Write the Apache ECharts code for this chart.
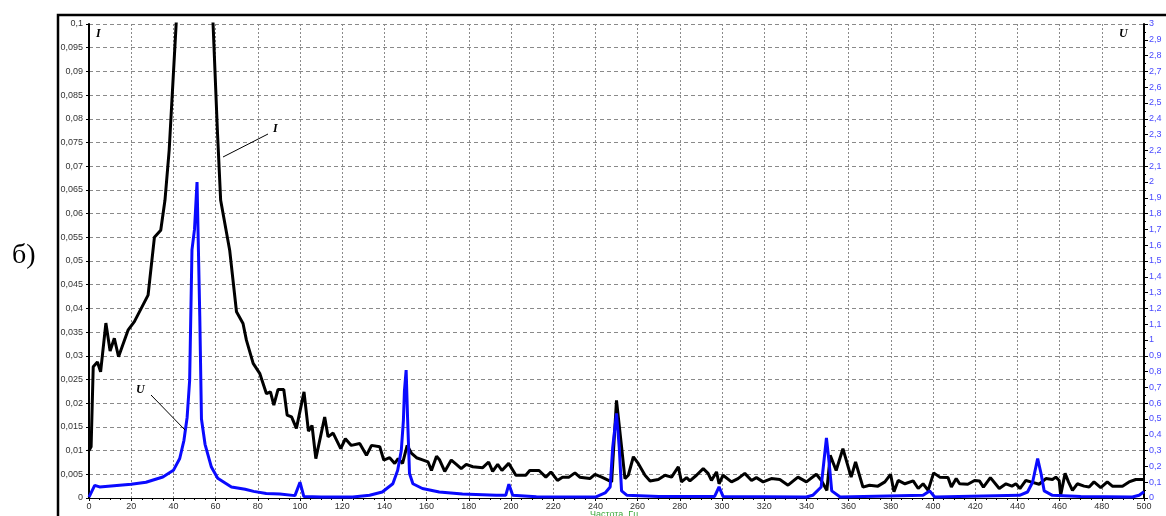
<!DOCTYPE html>
<html>
<head>
<meta charset="utf-8">
<script src="https://cdn.jsdelivr.net/npm/echarts@6/dist/echarts.min.js"></script>
<style>
  html, body { margin: 0; padding: 0; background: #fff; }
  #chart { width: 1166px; height: 516px; }
</style>
</head>
<body>
<div id="chart"></div>
<script>
// Current spectrum I (left axis) versus frequency, Hz
const freqI = [0, 1, 2, 4, 5.5, 8, 10, 12, 14, 18.5, 21.5, 28, 31, 34, 36, 38, 50, 58.8, 60.9, 62.4,
  66.7, 69.9, 73, 74.6, 77.8, 80.9, 84.1, 86, 87.6, 89.6, 92.3, 93.9, 96, 98.3, 101.9, 104, 105.7, 107.5,
  109.7, 111.7, 113.3, 115.7, 119.3, 121.5, 124.3, 128.3, 131.5, 133.9, 137.8, 139.7, 142.5, 144.9, 146.5,
  148.6, 150.8, 152.9, 155.2, 158.4, 160.7, 162.3, 164.7, 166.2, 168.6, 171.7, 174.1, 176.4, 178.8, 181.9,
  186.6, 189.4, 191.3, 193.7, 195.7, 198.9, 202.3, 207, 208.9, 213.3, 216.5, 218.9, 222, 224.4, 227.5,
  230.3, 232.6, 237.4, 239.8, 243, 247.7, 250, 252.4, 254, 255.6, 258, 260.3, 263.5, 265.9, 269.8, 273,
  276.1, 279.3, 280.8, 283.2, 284.8, 287.9, 291.1, 293.4, 295, 297.4, 298.6, 300.5, 304.5, 307.6, 310.8,
  314, 316.3, 319.5, 323.4, 327.4, 331.3, 336, 340, 344.7, 347.1, 349.7, 351.3, 354.1, 357.3, 361.2, 363.3,
  366.8, 369.9, 373.9, 377.2, 379.9, 381.5, 383.5, 386.7, 390.6, 393, 395.3, 397.7, 400.3, 403.2, 407.1,
  408.7, 411, 412.6, 416.5, 419.7, 422, 423.9, 427.2, 431.4, 434.6, 437.4, 439.3, 441.2, 444, 446.4, 450.3,
  453.5, 456.6, 458.2, 459.8, 460.5, 462.6, 464.2, 466.1, 468.4, 471.6, 474, 476.3, 479.5, 482.6, 485,
  489.8, 492.9, 496.1, 500];
const valI = [0.0100, 0.0108, 0.0277, 0.0287, 0.0266, 0.0369, 0.0310, 0.0337, 0.0298, 0.0354, 0.0372, 0.0428,
  0.0550, 0.0565, 0.0628, 0.0734, 0.1700, 0.1000, 0.0770, 0.0628,
  0.0522, 0.0393, 0.0368, 0.0333, 0.0284, 0.0263, 0.0220, 0.0224, 0.0196, 0.0229, 0.0229, 0.0175, 0.0171,
  0.0147, 0.0224, 0.0141, 0.0153, 0.0083,
  0.0129, 0.0171, 0.0129, 0.0137, 0.0104, 0.0125, 0.0111, 0.0115, 0.0090, 0.0111, 0.0108, 0.0080, 0.0085,
  0.0073, 0.0083,
  0.0073, 0.0111, 0.0094, 0.0085, 0.0080, 0.0076, 0.0058, 0.0088, 0.0080, 0.0056, 0.0080, 0.0071, 0.0062,
  0.0071, 0.0066,
  0.0064, 0.0076, 0.0056, 0.0071, 0.0058, 0.0073, 0.0048, 0.0048, 0.0058, 0.0058, 0.0044, 0.0055, 0.0037,
  0.0044, 0.0044,
  0.0053, 0.0044, 0.0041, 0.0050, 0.0044, 0.0034, 0.0206, 0.0108, 0.0041, 0.0048, 0.0087, 0.0073, 0.0048,
  0.0036, 0.0039, 0.0048,
  0.0044, 0.0066, 0.0034, 0.0043, 0.0036, 0.0048, 0.0062, 0.0052, 0.0037, 0.0055, 0.0030, 0.0048, 0.0034,
  0.0041, 0.0052,
  0.0037, 0.0043, 0.0034, 0.0041, 0.0039, 0.0027, 0.0044, 0.0034, 0.0050, 0.0037, 0.0016, 0.0090, 0.0058,
  0.0104, 0.0044, 0.0076,
  0.0023, 0.0027, 0.0025, 0.0034, 0.0050, 0.0013, 0.0037, 0.0030, 0.0036, 0.0020, 0.0030, 0.0016, 0.0053,
  0.0044, 0.0043,
  0.0023, 0.0041, 0.0030, 0.0029, 0.0037, 0.0036, 0.0023, 0.0043, 0.0020, 0.0030, 0.0025, 0.0030, 0.0020,
  0.0037, 0.0034, 0.0029,
  0.0041, 0.0039, 0.0044, 0.0037, 0.0006, 0.0052, 0.0034, 0.0016, 0.0030, 0.0025, 0.0023, 0.0034, 0.0022,
  0.0034, 0.0025,
  0.0025, 0.0034, 0.0039, 0.0039];

// Voltage spectrum U (right axis) versus frequency, Hz
const freqU = [0, 2.7, 5, 20, 27, 35, 40, 43, 45, 46.5, 47.7, 48.8, 50, 51.2, 52.5, 53.3, 55, 58, 61, 67.5,
  74, 78, 84, 90.5, 97.6, 100, 101.8, 110, 125, 133, 139, 144, 146.3, 148, 149, 149.5, 150.3, 151, 151.9,
  153.5, 158, 166, 177, 193, 197.5, 199, 200.8, 212, 240, 244.6, 247, 248.2, 250, 251.3, 252.4, 255, 270,
  296.5, 298.6, 300.5, 340, 343, 347, 348.2, 349.5, 350.8, 352, 356, 395.3, 398.4, 400.8, 441, 444.8,
  447.2, 449.6, 451.2, 452.7, 456.6, 470, 494.5, 497.7, 500];
const valU = [0.006, 0.08, 0.07, 0.087, 0.10, 0.133, 0.175, 0.25, 0.365, 0.51, 0.745, 1.57, 1.70, 2.0, 1.15,
  0.50, 0.34, 0.196, 0.125, 0.07,
  0.055, 0.042, 0.028, 0.025, 0.015, 0.10, 0.010, 0.006, 0.006, 0.017, 0.038, 0.09, 0.175, 0.30, 0.49, 0.68,
  0.81, 0.50, 0.155,
  0.09, 0.06, 0.038, 0.025, 0.017, 0.017, 0.087, 0.017, 0.008, 0.006, 0.032, 0.07, 0.32, 0.535, 0.32, 0.045,
  0.017, 0.010,
  0.010, 0.07, 0.010, 0.006, 0.017, 0.07, 0.22, 0.38, 0.22, 0.045, 0.006, 0.017, 0.045, 0.006, 0.017, 0.038,
  0.10, 0.25, 0.155, 0.045, 0.017, 0.010, 0.006, 0.017, 0.04];

const freqTicks = { min: 0, max: 500, step: 20 };
const currentTicks = { min: 0, max: 0.1, step: 0.005 };
const voltageTicks = { min: 0, max: 3, step: 0.1 };

const chart = echarts.init(document.getElementById('chart'), null, { renderer: 'canvas' });

const commaNum = (v, digits) => String(+v.toFixed(digits)).replace('.', ',');
const tickFont = { fontFamily: 'Liberation Sans, Arial, sans-serif', fontSize: 9 };
const serifItalic = { fontFamily: 'Liberation Serif, Times New Roman, serif', fontStyle: 'italic', fontWeight: 'bold' };

const option = {
  animation: false,
  backgroundColor: '#ffffff',
  grid: { left: 89, right: 22, top: 24, bottom: 18, containLabel: false },
  xAxis: {
    type: 'value',
    min: freqTicks.min, max: freqTicks.max, interval: freqTicks.step,
    axisLine: { show: true, onZero: false, lineStyle: { color: '#000', width: 1 } },
    axisTick: { show: true, length: 3, lineStyle: { color: '#000' } },
    minorTick: { show: true, splitNumber: 4, length: 2, lineStyle: { color: '#000' } },
    axisLabel: { ...tickFont, color: '#333', margin: 4, formatter: v => String(v) },
    splitLine: { show: true, lineStyle: { color: '#8a8a8a', type: [2, 2], width: 1 } }
  },
  yAxis: [
    {
      type: 'value', position: 'left',
      min: currentTicks.min, max: currentTicks.max, interval: currentTicks.step,
      axisLine: { show: true, lineStyle: { color: '#000', width: 2 } },
      axisTick: { show: true, length: 3, lineStyle: { color: '#000' } },
      axisLabel: { ...tickFont, color: '#333', margin: 6, formatter: v => commaNum(v, 3) },
      splitLine: { show: true, lineStyle: { color: '#8a8a8a', type: [4, 3], width: 1 } }
    },
    {
      type: 'value', position: 'right',
      min: voltageTicks.min, max: voltageTicks.max, interval: voltageTicks.step,
      axisLine: { show: true, lineStyle: { color: '#000', width: 2 } },
      axisTick: { show: true, length: 4, lineStyle: { color: '#000' } },
      minorTick: { show: true, splitNumber: 2, length: 2, lineStyle: { color: '#000' } },
      axisLabel: { ...tickFont, color: '#4a4aff', margin: 5, formatter: v => commaNum(v, 1) },
      splitLine: { show: false }
    }
  ],
  series: [
    {
      name: 'I', type: 'line', yAxisIndex: 0, showSymbol: false, symbol: 'none', clip: true,
      data: freqI.map((f, i) => [f, valI[i]]),
      lineStyle: { color: '#000000', width: 3, join: 'bevel' },
      z: 3
    },
    {
      name: 'U', type: 'line', yAxisIndex: 1, showSymbol: false, symbol: 'none', clip: true,
      data: freqU.map((f, i) => [f, valU[i]]),
      lineStyle: { color: '#0a0aff', width: 3, join: 'bevel' },
      z: 4
    }
  ],
  graphic: [
    // outer frame
    { type: 'rect', z: 0, silent: true,
      shape: { x: 58, y: 15, width: 1130, height: 530 },
      style: { fill: 'none', stroke: '#000', lineWidth: 2.5 } },
    // panel letter
    { type: 'text', left: 12, top: 242, z: 10,
      style: { text: 'б)', fontFamily: 'Liberation Serif, Times New Roman, serif', fontSize: 28, fill: '#000' } },
    // axis symbols in the corners
    { type: 'text', left: 96, top: 28, z: 10, style: { text: 'I', ...serifItalic, fontSize: 12, fill: '#000' } },
    { type: 'text', left: 1119, top: 28, z: 10, style: { text: 'U', ...serifItalic, fontSize: 12, fill: '#000' } },
    // curve callouts
    { type: 'line', z: 10, shape: { x1: 268, y1: 134, x2: 223, y2: 157 }, style: { stroke: '#000', lineWidth: 1 } },
    { type: 'text', left: 273, top: 123, z: 10, style: { text: 'I', ...serifItalic, fontSize: 12, fill: '#000' } },
    { type: 'line', z: 10, shape: { x1: 151, y1: 395, x2: 185, y2: 430 }, style: { stroke: '#000', lineWidth: 1 } },
    { type: 'text', left: 136, top: 384, z: 10, style: { text: 'U', ...serifItalic, fontSize: 12, fill: '#000' } },
    // frequency axis title
    { type: 'text', left: 590, top: 510, z: 10,
      style: { text: 'Частота, Гц', fontFamily: 'Liberation Sans, Arial, sans-serif', fontSize: 9, fill: '#3aa83a' } }
  ]
};

chart.setOption(option);
</script>
</body>
</html>
